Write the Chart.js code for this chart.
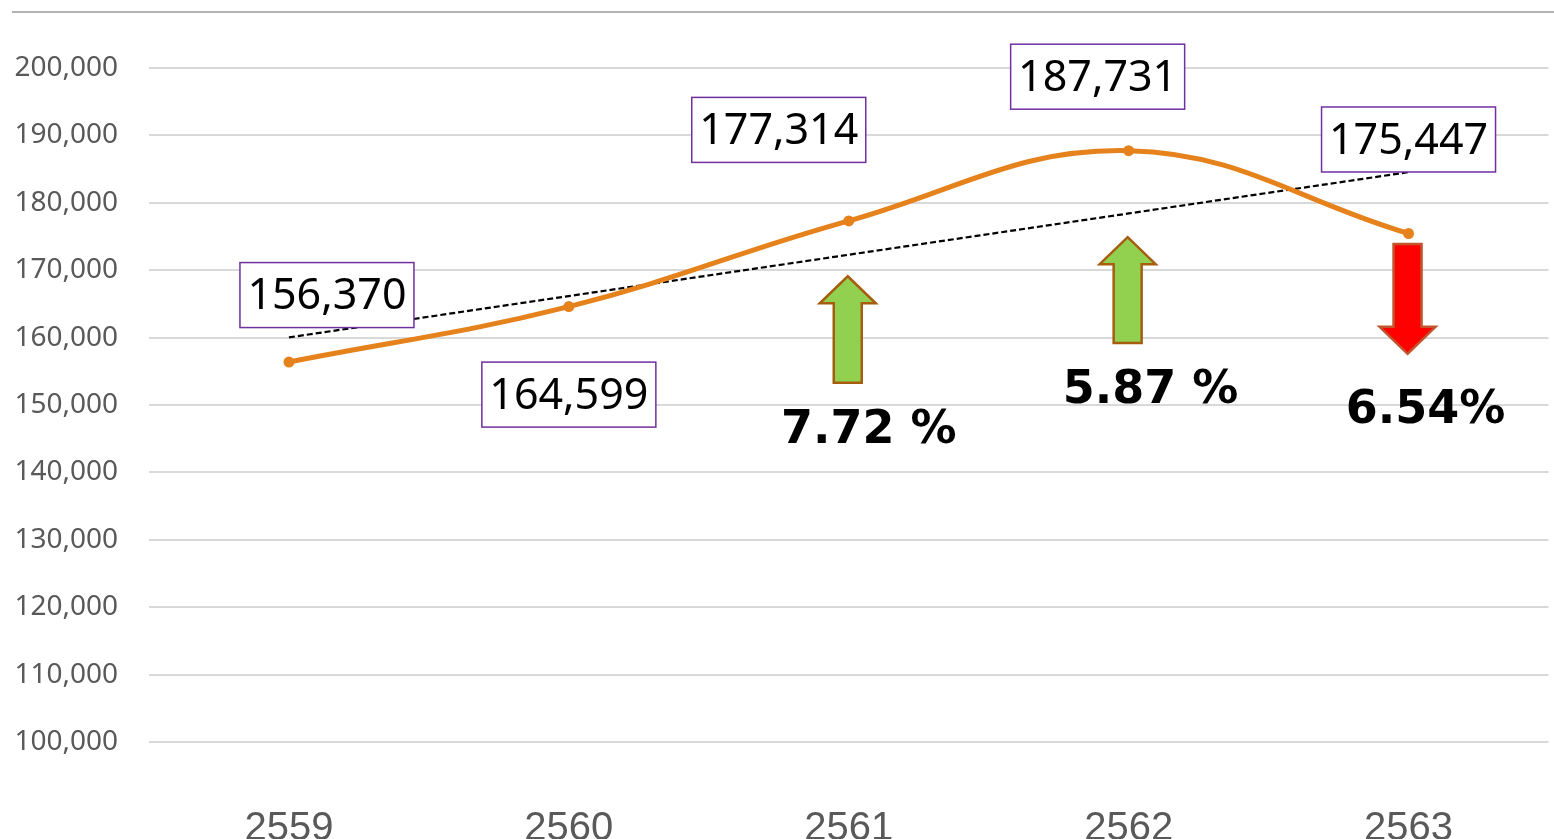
<!DOCTYPE html>
<html>
<head>
<meta charset="utf-8">
<script src="https://cdn.jsdelivr.net/npm/chart.js@4/dist/chart.umd.min.js"></script>
<style>
  html, body { margin: 0; padding: 0; background: #fff; overflow: hidden; }
  #wrap { position: relative; width: 1554px; height: 839px; }
</style>
</head>
<body>
<div id="wrap"><canvas id="chart"></canvas></div>
<script>
// --- data ---
const years = ['2559', '2560', '2561', '2562', '2563'];
const values = [156370, 164599, 177314, 187731, 175447];
const yTicks = [100000, 110000, 120000, 130000, 140000, 150000, 160000, 170000, 180000, 190000, 200000];
const changeYears = ['2561', '2562', '2563'];
const changeLabels = ['7.72 %', '5.87 %', '6.54%'];
const changeDir = ['up', 'up', 'down'];

// --- annotation layout (pixel offsets / value levels for the callouts) ---
const boxOffsets = [[38, -67], [0, 88], [-70, -91], [-31, -74], [0, -94]];
const arrowTop = [169100, 174900, 173900];
const arrowBottom = [153300, 159200, 157600];
const pctBaseline = [144350, 150300, 147330];
const pctShift = [20, 22, 17];

// linear trend from the series
function trendLine(ys) {
    const n = ys.length;
    const mx = (n - 1) / 2;
    const my = ys.reduce((a, b) => a + b, 0) / n;
    let num = 0, den = 0;
    ys.forEach((y, i) => { num += (i - mx) * (y - my); den += (i - mx) * (i - mx); });
    const slope = num / den;
    return ys.map((y, i) => my + slope * (i - mx));
}

const fmt = v => v.toLocaleString('en-US');

function drawArrow(ctx, cx, yTop, yBot, dir, fill, stroke) {
    const sw = 14, hw = 28, hl = 27;
    ctx.beginPath();
    if (dir === 'up') {
        ctx.moveTo(cx, yTop);
        ctx.lineTo(cx + hw, yTop + hl);
        ctx.lineTo(cx + sw, yTop + hl);
        ctx.lineTo(cx + sw, yBot);
        ctx.lineTo(cx - sw, yBot);
        ctx.lineTo(cx - sw, yTop + hl);
        ctx.lineTo(cx - hw, yTop + hl);
    } else {
        ctx.moveTo(cx, yBot);
        ctx.lineTo(cx + hw, yBot - hl);
        ctx.lineTo(cx + sw, yBot - hl);
        ctx.lineTo(cx + sw, yTop);
        ctx.lineTo(cx - sw, yTop);
        ctx.lineTo(cx - sw, yBot - hl);
        ctx.lineTo(cx - hw, yBot - hl);
    }
    ctx.closePath();
    ctx.fillStyle = fill;
    ctx.fill();
    ctx.lineWidth = 2.5;
    ctx.strokeStyle = stroke;
    ctx.lineJoin = 'miter';
    ctx.stroke();
}

const callouts = {
    id: 'callouts',
    beforeDraw(chart) {
        const ctx = chart.ctx;
        ctx.save();
        ctx.strokeStyle = '#9a9a9a';
        ctx.lineWidth = 1.5;
        ctx.beginPath();
        ctx.moveTo(12, 12);
        ctx.lineTo(chart.width, 12);
        ctx.stroke();
        ctx.restore();
    },
    afterDatasetsDraw(chart) {
        const ctx = chart.ctx;
        const xs = chart.scales.x, ys = chart.scales.y;
        ctx.save();

        // value boxes
        ctx.font = '43px "Noto Sans"';
        ctx.textAlign = 'center';
        ctx.textBaseline = 'middle';
        values.forEach((v, i) => {
            const cx = xs.getPixelForValue(i) + boxOffsets[i][0];
            const cy = ys.getPixelForValue(v) + boxOffsets[i][1];
            const w = 174, h = 65;
            ctx.fillStyle = '#ffffff';
            ctx.fillRect(cx - w / 2, cy - h / 2, w, h);
            ctx.strokeStyle = '#7030A0';
            ctx.lineWidth = 1.5;
            ctx.strokeRect(cx - w / 2, cy - h / 2, w, h);
            ctx.fillStyle = '#000000';
            ctx.fillText(fmt(v), cx, cy + 2);
        });

        // arrows and change labels
        changeYears.forEach((yr, k) => {
            const cx = xs.getPixelForValue(years.indexOf(yr));
            const top = ys.getPixelForValue(arrowTop[k]);
            const bot = ys.getPixelForValue(arrowBottom[k]);
            if (changeDir[k] === 'up') {
                drawArrow(ctx, cx - 1, top, bot, 'up', '#92D050', '#A65E0E');
            } else {
                drawArrow(ctx, cx - 1, top, bot, 'down', '#FF0000', '#C0552E');
            }
            ctx.font = 'bold 46px "DejaVu Sans"';
            ctx.textAlign = 'center';
            ctx.textBaseline = 'alphabetic';
            ctx.fillStyle = '#000000';
            ctx.fillText(changeLabels[k], cx + pctShift[k], ys.getPixelForValue(pctBaseline[k]));
        });

        ctx.restore();
    }
};

new Chart(document.getElementById('chart'), {
    type: 'line',
    data: {
        labels: years,
        datasets: [{
            data: values,
            borderColor: '#E5821C',
            backgroundColor: '#E5821C',
            borderWidth: 5,
            pointRadius: 5.5,
            pointBorderWidth: 0,
            tension: 0.4,
            clip: false
        }, {
            data: trendLine(values),
            borderColor: '#000000',
            borderWidth: 2.2,
            borderDash: [6, 3],
            pointRadius: 0,
            tension: 0,
            clip: false
        }]
    },
    options: {
        responsive: true,
        maintainAspectRatio: false,
        animation: false,
        layout: { padding: { top: 68, left: 0, right: 0, bottom: 0 } },
        plugins: {
            legend: { display: false },
            tooltip: { enabled: false }
        },
        scales: {
            x: {
                offset: true,
                grid: { display: false },
                border: { display: false },
                ticks: {
                    color: '#595959',
                    padding: 55,
                    font: { family: '"Liberation Sans", Arial', size: 40 }
                },
                afterFit: scale => { scale.height = 97; }
            },
            y: {
                min: yTicks[0],
                max: yTicks[yTicks.length - 1],
                afterBuildTicks: scale => { scale.ticks = yTicks.map(v => ({ value: v })); },
                grid: { color: '#d9d9d9', lineWidth: 2, drawTicks: false },
                border: { display: false },
                ticks: {
                    color: '#595959',
                    padding: 31,
                    font: { family: '"Noto Sans"', size: 28 },
                    callback: v => fmt(v)
                },
                afterFit: scale => { scale.width = 149; }
            }
        }
    },
    plugins: [callouts]
});
</script>
</body>
</html>
